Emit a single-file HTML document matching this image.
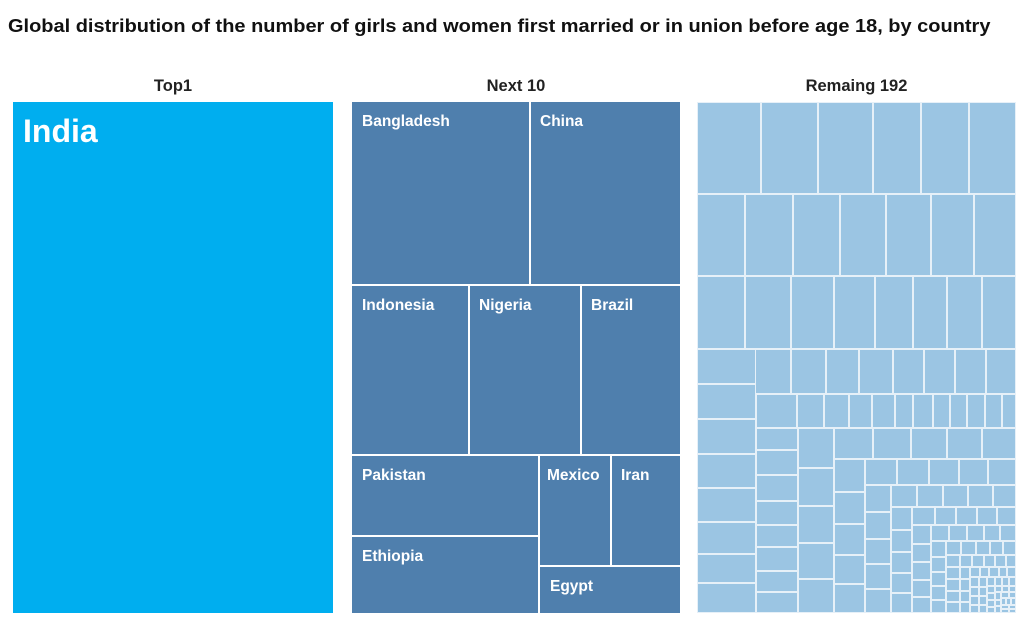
<!DOCTYPE html>
<html><head><meta charset="utf-8"><style>
body{margin:0;width:1024px;height:631px;background:#fff;position:relative;overflow:hidden;font-family:"Liberation Sans",Arial,sans-serif}
.t{position:absolute;left:8px;top:16px;font-size:18px;font-weight:bold;color:#111;white-space:nowrap;transform:scaleX(1.11);transform-origin:left top}
.h{position:absolute;top:77px;font-size:16.5px;font-weight:bold;color:#222;text-align:center}
.r{position:absolute;box-sizing:border-box}
.b{background:#4f7fad;color:#fff;font-weight:bold;font-size:15.5px;padding:11px 0 0 10px;box-sizing:border-box;white-space:nowrap;overflow:hidden}
.l{background:#9bc5e3;border:1px solid #e6f0f8}
</style></head><body>
<div class="t">Global distribution of the number of girls and women first married or in union before age 18, by country</div>
<div class="h" style="left:13px;width:320px">Top1</div>
<div class="h" style="left:352px;width:328px">Next 10</div>
<div class="h" style="left:697px;width:319px">Remaing 192</div>
<div class="r" style="left:13px;top:102px;width:320px;height:511px;background:#00aeef;color:#fff;font-weight:bold;font-size:32px;padding:11px 0 0 10px">India</div>
<div class="r b" style="left:352px;top:102px;width:177px;height:182px">Bangladesh</div>
<div class="r b" style="left:531px;top:102px;width:149px;height:182px;padding-left:9px">China</div>
<div class="r b" style="left:352px;top:286px;width:116px;height:168px">Indonesia</div>
<div class="r b" style="left:470px;top:286px;width:110px;height:168px;padding-left:9px">Nigeria</div>
<div class="r b" style="left:582px;top:286px;width:98px;height:168px;padding-left:9px">Brazil</div>
<div class="r b" style="left:352px;top:456px;width:186px;height:79px">Pakistan</div>
<div class="r b" style="left:352px;top:537px;width:186px;height:76px">Ethiopia</div>
<div class="r b" style="left:540px;top:456px;width:70px;height:109px;padding-left:7px">Mexico</div>
<div class="r b" style="left:612px;top:456px;width:68px;height:109px;padding-left:9px">Iran</div>
<div class="r b" style="left:540px;top:567px;width:140px;height:46px">Egypt</div>
<div id="p3"></div>
<script>
var p=document.getElementById('p3'),h='';
function R(x0,y0,x1,y1){h+='<div class="r l" style="left:'+x0+'px;top:'+y0+'px;width:'+(x1-x0)+'px;height:'+(y1-y0)+'px"></div>';}
function row(xs,y0,y1){for(var i=0;i<xs.length-1;i++)R(xs[i],y0,xs[i+1],y1);}
function col(ys,x0,x1){for(var i=0;i<ys.length-1;i++)R(x0,ys[i],x1,ys[i+1]);}
row([697,761,818,873,921,969,1016],102,194);
row([697,745,793,840,886,931,974,1016],194,276);
row([697,745,791,834,875,913,947,982,1016],276,349);
row([755,791,826,859,893,924,955,986,1016],349,394);
col([349,384,419,454,488,522,554,583,613],697,756);
row([756,797,824,849,872,895,913,933,950,967,985,1002,1016],394,428);
col([428,450,475,501,525,547,571,592,613],756,798);
var vals=[];for(var i=0;i<110;i++)vals.push(Math.pow(0.965,i));
function worst(r,w){var s=0,mx=0,mn=1e9;r.forEach(function(v){s+=v;mx=Math.max(mx,v);mn=Math.min(mn,v)});return Math.max(w*w*mx/(s*s),s*s/(w*w*mn));}
function sq(v,x,y,w,hh){var tot=v.reduce(function(a,b){return a+b},0),sc=w*hh/tot;v=v.map(function(a){return a*sc});
while(v.length){var side=Math.min(w,hh),r=[v[0]],i=1;while(i<v.length&&worst(r.concat([v[i]]),side)<=worst(r,side)){r.push(v[i]);i++;}
v=v.slice(i);var s=r.reduce(function(a,b){return a+b},0);
if(w>=hh){var cw=s/hh,cy=y;r.forEach(function(a){var ch=a/cw;R(Math.round(x),Math.round(cy),Math.round(x+cw),Math.round(cy+ch));cy+=ch});x+=cw;w-=cw;}
else{var rh=s/w,cx=x;r.forEach(function(a){var rw=a/rh;R(Math.round(cx),Math.round(y),Math.round(cx+rw),Math.round(y+rh));cx+=rw});y+=rh;hh-=rh;}}}
sq(vals,798,428,218,185);
p.innerHTML=h;
</script>
</body></html>
